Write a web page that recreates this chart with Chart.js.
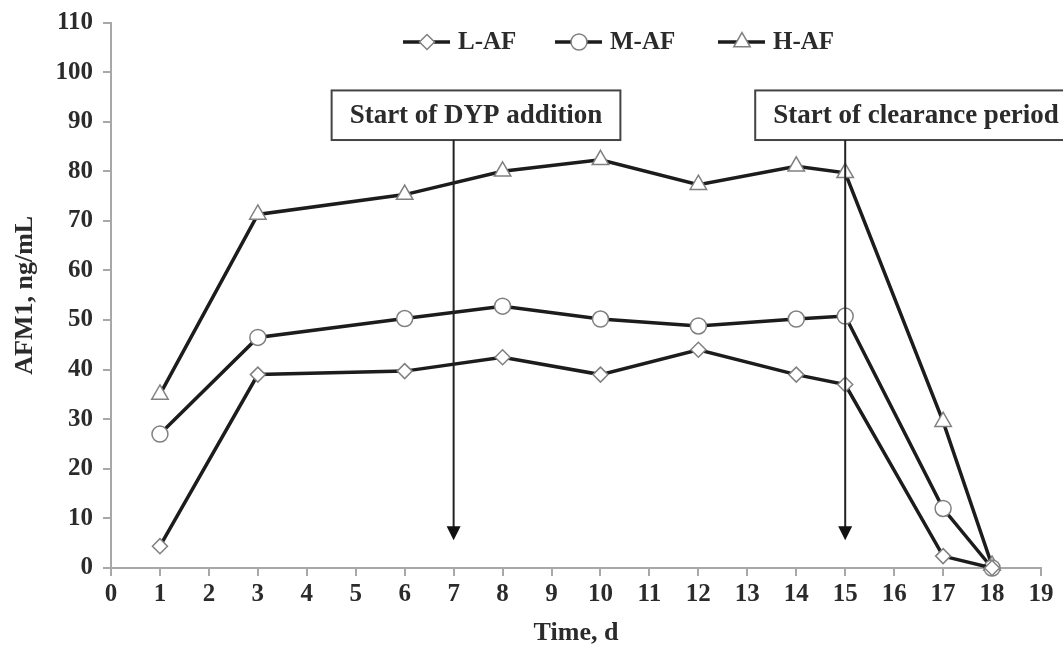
<!DOCTYPE html>
<html lang="en">
<head>
  <meta charset="UTF-8" />
  <title>AFM1</title>
  <script src="https://cdn.jsdelivr.net/npm/chart.js"></script>
  <style>
    html, body { margin: 0; padding: 0; background: #fff; }
    #wrap { width: 1063px; height: 648px; }
  </style>
</head>
<body>
  <div id="wrap"><canvas id="chart" width="1063" height="648"></canvas></div>

  <script>
    // days and measured values
    const days = [1, 3, 6, 8, 10, 12, 14, 15, 17, 18];
    const lowAF  = [4.4, 39, 39.7, 42.5, 39, 44, 39, 37, 2.4, 0];
    const midAF  = [27, 46.5, 50.3, 52.8, 50.2, 48.8, 50.2, 50.8, 12, 0];
    const highAF = [35, 71.3, 75.3, 80, 82.3, 77.3, 81, 79.7, 29.5, 0.5];
    const seriesNames = ['L-AF', 'M-AF', 'H-AF'];

    // annotation arrows: day, label
    const markDays = [7, 15];
    const markLabels = ['Start of DYP addition', 'Start of clearance period'];

    const FONT = '"Liberation Serif", "Times New Roman", serif';
    const AXIS = '#a8a8a8';
    const INK = '#2b2b2b';

    const toPts = vals => days.map((d, i) => ({ x: d, y: vals[i] }));

    function ds(label, vals, style, r) {
      return {
        label: label,
        data: toPts(vals),
        borderColor: '#1c1c1c',
        borderWidth: 3.5,
        pointStyle: style,
        pointRadius: r,
        pointHoverRadius: r,
        pointBorderColor: '#808080',
        pointBackgroundColor: '#fff',
        pointBorderWidth: 1.5,
        tension: 0,
        clip: false
      };
    }

    function drawMarker(c, style, r, x, y) {
      if (style === 'circle') {
        c.arc(x, y, r, 0, Math.PI * 2);
      } else if (style === 'rectRot') {
        c.moveTo(x, y - r); c.lineTo(x + r, y); c.lineTo(x, y + r); c.lineTo(x - r, y); c.closePath();
      } else {
        const w = r * Math.sqrt(3) / 2;
        c.moveTo(x, y - r); c.lineTo(x + w, y + r / 2); c.lineTo(x - w, y + r / 2); c.closePath();
      }
    }

    const extras = {
      id: 'extras',
      afterDatasetsDraw(chart) {
        const c = chart.ctx, xs = chart.scales.x, ys = chart.scales.y, a = chart.chartArea;
        c.save();

        // boxes and arrows
        const boxLeftOff = [122, 90];
        c.font = 'bold 27px ' + FONT;
        markDays.forEach((d, i) => {
          const px = xs.getPixelForValue(d);
          const top = ys.getPixelForValue(96.3), bot = ys.getPixelForValue(86.3);
          const tw = c.measureText(markLabels[i]).width;
          const left = px - boxLeftOff[i];
          c.fillStyle = '#fff';
          c.fillRect(left, top, tw + 36, bot - top);
          c.strokeStyle = '#444';
          c.lineWidth = 2;
          c.strokeRect(left, top, tw + 36, bot - top);
          c.fillStyle = INK;
          c.textAlign = 'left';
          c.textBaseline = 'middle';
          c.fillText(markLabels[i], left + 18, (top + bot) / 2 + 1);

          const tip = ys.getPixelForValue(5.6);
          c.strokeStyle = '#222';
          c.lineWidth = 2;
          c.beginPath();
          c.moveTo(px, bot);
          c.lineTo(px, tip - 12);
          c.stroke();
          c.fillStyle = '#111';
          c.beginPath();
          c.moveTo(px - 7, tip - 14);
          c.lineTo(px + 7, tip - 14);
          c.lineTo(px, tip);
          c.closePath();
          c.fill();
        });

        // legend
        const legX = [403, 555, 718];
        const ly = 42;
        c.font = 'bold 25px ' + FONT;
        c.textBaseline = 'middle';
        chart.data.datasets.forEach((s, i) => {
          const x0 = legX[i];
          c.strokeStyle = s.borderColor;
          c.lineWidth = 3.5;
          c.beginPath();
          c.moveTo(x0, ly);
          c.lineTo(x0 + 47, ly);
          c.stroke();
          c.fillStyle = '#fff';
          c.strokeStyle = s.pointBorderColor;
          c.lineWidth = 1.5;
          c.beginPath();
          drawMarker(c, s.pointStyle, s.pointRadius, x0 + 24, ly);
          c.fill();
          c.stroke();
          c.fillStyle = INK;
          c.textAlign = 'left';
          c.fillText(s.label, x0 + 55, ly + 1);
        });

        // axis titles
        c.font = 'bold 26px ' + FONT;
        c.fillStyle = INK;
        c.textAlign = 'center';
        c.fillText('Time, d', (a.left + a.right) / 2, 633);
        c.translate(25, (a.top + a.bottom) / 2);
        c.rotate(-Math.PI / 2);
        c.fillText('AFM1, ng/mL', 0, 0);
        c.restore();
      }
    };

    const chart = new Chart(document.getElementById('chart'), {
      type: 'line',
      data: {
        datasets: [
          ds(seriesNames[0], lowAF, 'rectRot', 7.5),
          ds(seriesNames[1], midAF, 'circle', 8),
          ds(seriesNames[2], highAF, 'triangle', 9.5)
        ]
      },
      options: {
        responsive: false,
        animation: false,
        events: [],
        layout: { padding: { top: 19, right: 22, left: 0, bottom: 0 } },
        plugins: { legend: { display: false }, tooltip: { enabled: false } },
        scales: {
          x: {
            type: 'linear', min: 0, max: 19,
            afterFit: s => { s.height = 80; },
            border: { color: AXIS, width: 2 },
            grid: { drawOnChartArea: false, color: AXIS, lineWidth: 2, tickLength: 8 },
            ticks: { stepSize: 1, padding: 4, color: INK, font: { family: FONT, size: 25, weight: 'bold' } }
          },
          y: {
            min: 0, max: 110,
            afterFit: s => { s.width = 111; },
            border: { color: AXIS, width: 2 },
            grid: { drawOnChartArea: false, color: AXIS, lineWidth: 2, tickLength: 8 },
            ticks: { stepSize: 10, padding: 10, color: INK, font: { family: FONT, size: 25, weight: 'bold', lineHeight: 1 } }
          }
        }
      },
      plugins: [extras]
    });
  </script>
</body>
</html>
